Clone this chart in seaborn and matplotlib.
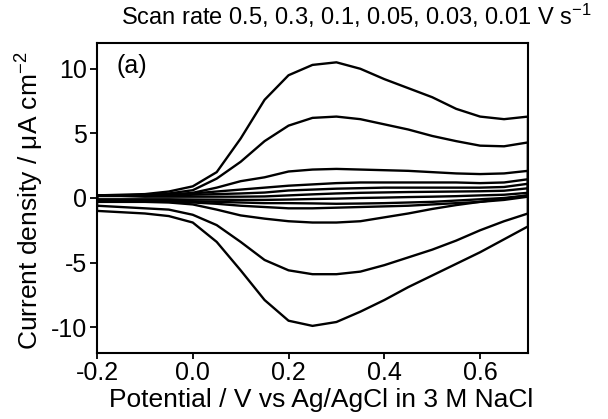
import matplotlib
matplotlib.use("Agg")
import matplotlib.pyplot as plt
import seaborn as sns
import pandas as pd

# Potential grid (V vs Ag/AgCl)
potential = [-0.2, -0.15, -0.1, -0.05, 0.0, 0.05, 0.1, 0.15, 0.2, 0.25, 0.3,
             0.35, 0.4, 0.45, 0.5, 0.55, 0.6, 0.65, 0.7]

scan_rates = ["0.5", "0.3", "0.1", "0.05", "0.03", "0.01"]

# Anodic (forward) sweep current densities, µA cm^-2
fwd_05 = [0.2, 0.25, 0.3, 0.5, 0.9, 2.0, 4.6, 7.6, 9.5, 10.3, 10.5, 10.0, 9.2, 8.5, 7.8, 6.9, 6.3, 6.1, 6.3]
fwd_03 = [0.2, 0.2, 0.25, 0.35, 0.6, 1.5, 2.8, 4.4, 5.6, 6.2, 6.3, 6.1, 5.7, 5.3, 4.8, 4.4, 4.05, 4.0, 4.3]
fwd_01 = [0.2, 0.2, 0.2, 0.25, 0.4, 0.8, 1.3, 1.6, 2.05, 2.2, 2.25, 2.2, 2.15, 2.1, 2.0, 1.9, 1.85, 1.9, 2.1]
fwd_005 = [0.2, 0.2, 0.2, 0.25, 0.35, 0.5, 0.65, 0.8, 0.95, 1.05, 1.15, 1.2, 1.2, 1.2, 1.2, 1.2, 1.15, 1.2, 1.45]
fwd_003 = [0.2, 0.2, 0.15, 0.2, 0.25, 0.3, 0.35, 0.42, 0.58, 0.65, 0.72, 0.76, 0.8, 0.8, 0.8, 0.8, 0.8, 0.85, 1.1]
fwd_001 = [0.15, 0.15, 0.1, 0.1, 0.1, 0.1, 0.1, 0.12, 0.2, 0.28, 0.35, 0.4, 0.43, 0.46, 0.48, 0.5, 0.52, 0.56, 0.75]

# Cathodic (reverse) sweep current densities at the same potentials, µA cm^-2
rev_05 = [-1.0, -1.1, -1.2, -1.4, -1.9, -3.4, -5.6, -7.9, -9.5, -9.9, -9.6, -8.8, -7.9, -6.9, -6.0, -5.1, -4.2, -3.2, -2.2]
rev_03 = [-0.6, -0.7, -0.8, -0.9, -1.3, -2.1, -3.4, -4.8, -5.6, -5.9, -5.9, -5.7, -5.2, -4.6, -4.0, -3.3, -2.5, -1.8, -1.2]
rev_01 = [-0.3, -0.3, -0.3, -0.35, -0.5, -0.9, -1.35, -1.6, -1.8, -1.9, -1.9, -1.8, -1.5, -1.2, -0.85, -0.55, -0.3, -0.05, 0.2]
rev_005 = [-0.3, -0.3, -0.3, -0.3, -0.35, -0.45, -0.6, -0.7, -0.8, -0.8, -0.75, -0.7, -0.65, -0.6, -0.5, -0.4, -0.3, -0.15, 0.1]
rev_003 = [-0.2, -0.2, -0.2, -0.2, -0.25, -0.3, -0.35, -0.4, -0.4, -0.42, -0.45, -0.43, -0.4, -0.35, -0.3, -0.2, -0.1, 0.0, 0.2]
rev_001 = [-0.1, -0.1, -0.1, -0.1, -0.12, -0.13, -0.15, -0.15, -0.12, -0.08, -0.05, 0.0, 0.03, 0.07, 0.1, 0.14, 0.2, 0.25, 0.4]

forward = [fwd_05, fwd_03, fwd_01, fwd_005, fwd_003, fwd_001]
reverse = [rev_05, rev_03, rev_01, rev_005, rev_003, rev_001]

sns.set_theme(style="ticks")
plt.rcParams["font.family"] = ["Liberation Sans", "DejaVu Sans"]
plt.rcParams["mathtext.fontset"] = "custom"
plt.rcParams["mathtext.rm"] = "Liberation Sans"
plt.rcParams["mathtext.it"] = "Liberation Sans:italic"

rows = []
for rate, f, r in zip(scan_rates, forward, reverse):
    order = 0
    for v, i in zip(potential, f):
        rows.append({"rate": rate, "order": order, "E": v, "j": i}); order += 1
    for v, i in zip(potential[::-1], r[::-1]):
        rows.append({"rate": rate, "order": order, "E": v, "j": i}); order += 1
    rows.append({"rate": rate, "order": order, "E": potential[0], "j": f[0]})
df = pd.DataFrame(rows)

fig = plt.figure(figsize=(6.08, 4.19), dpi=100)
ax = fig.add_axes([0.1595, 0.1575, 0.7089, 0.74])

for rate in scan_rates:
    sub = df[df["rate"] == rate].sort_values("order")
    sns.lineplot(data=sub, x="E", y="j", sort=False, estimator=None,
                 color="black", linewidth=1.7, ax=ax, legend=False)

ax.set_xlim(-0.2, 0.7)
ax.set_ylim(-12, 12)
ax.set_xticks([-0.2, 0.0, 0.2, 0.4, 0.6])
ax.set_xticklabels(["-0.2", "0.0", "0.2", "0.4", "0.6"])
ax.set_yticks([10, 5, 0, -5, -10])
ax.set_yticklabels(["10", "5", "0", "-5", "-10"])
ax.tick_params(axis="both", direction="out", width=1.3,
               labelsize=18, color="black", labelcolor="black")
ax.tick_params(axis="y", length=5, pad=2)
ax.tick_params(axis="x", length=4, pad=2)
for s in ax.spines.values():
    s.set_visible(True)
    s.set_linewidth(1.5)
    s.set_color("black")

ax.set_xlabel("Potential / V vs Ag/AgCl in 3 M NaCl", fontsize=19, color="black",
              va="center")
ax.set_ylabel(r"Current density / μA cm$^{-2}$", fontsize=19, color="black",
              va="center")
ax.xaxis.set_label_coords(0.52, -0.152)
ax.yaxis.set_label_coords(-0.155, 0.49)

ax.text(0.045, 0.965, "(a)", transform=ax.transAxes, fontsize=18,
        ha="left", va="top", color="black")

fig.text(356 / 608, 1 - 16 / 419,
         r"Scan rate 0.5, 0.3, 0.1, 0.05, 0.03, 0.01 V s$^{-1}$",
         ha="center", va="center", fontsize=17, color="black")

fig.savefig("out.png", dpi=100)
